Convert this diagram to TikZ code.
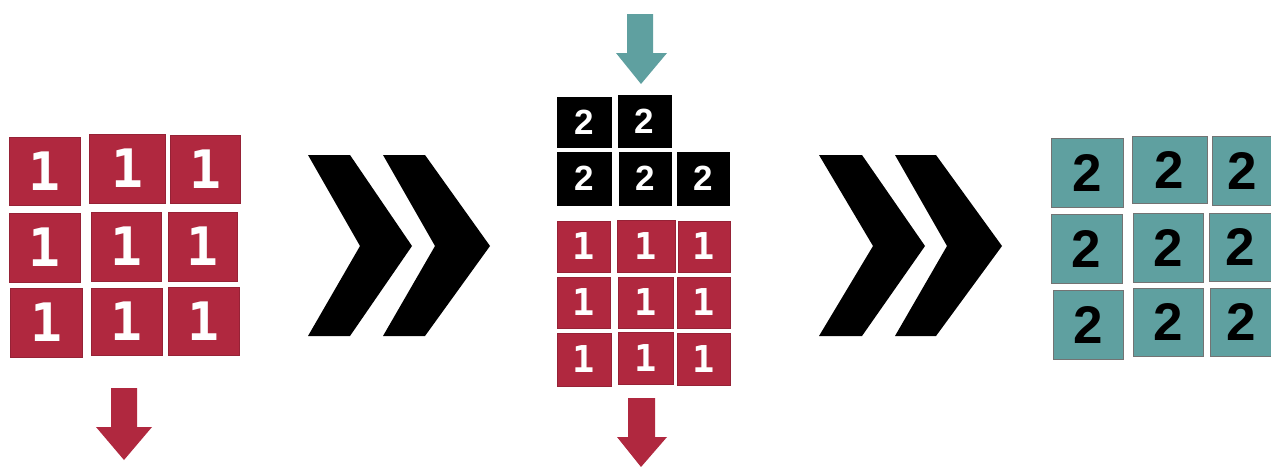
\documentclass[tikz,border=0pt]{standalone}
\usepackage{fontspec}
\newfontfamily\monof{DejaVu Sans Mono}
\newfontfamily\sansf{Liberation Sans}
\definecolor{cred}{HTML}{B0283F}
\definecolor{cteal}{HTML}{5FA0A0}
\tikzset{
  cell/.style={rectangle, inner sep=0pt, outer sep=0pt, line width=0.7pt},
  redbig/.style={cell, fill=cred, draw=cred!85!black, text=white, font=\monof\bfseries\fontsize{53}{53}\selectfont},
  redsmall/.style={cell, fill=cred, draw=cred!85!black, text=white, font=\monof\bfseries\fontsize{37}{37}\selectfont},
  blackcell/.style={cell, fill=black, draw=black, text=white, font=\sansf\bfseries\fontsize{35}{35}\selectfont},
  tealcell/.style={cell, fill=cteal, draw=black!55, text=black, font=\sansf\bfseries\fontsize{53}{53}\selectfont},
  chev/.style={fill=black},
  redarrow/.style={fill=cred},
  tealarrow/.style={fill=cteal}
}
\newcommand\cellbox[7]{\node[#1, minimum width={(#5-#3)*1pt}, minimum height={(#6-#4)*1pt}] (#2) at ({(#3+#5)/2},{(#4+#6)/2}) {#7};}
\begin{document}
\begin{tikzpicture}[x=1pt,y=-1pt]
\useasboundingbox[fill=white] (0,0) rectangle (1271,466);
% left grid
\cellbox{redbig}{l11}{9}{137}{80}{205}{1}
\cellbox{redbig}{l12}{89}{134}{165}{203}{1}
\cellbox{redbig}{l13}{170}{135}{240}{203}{1}
\cellbox{redbig}{l21}{9}{213}{80}{282}{1}
\cellbox{redbig}{l22}{91}{212}{161}{281}{1}
\cellbox{redbig}{l23}{168}{212}{237}{281}{1}
\cellbox{redbig}{l31}{10}{288}{82}{357}{1}
\cellbox{redbig}{l32}{91}{288}{162}{355}{1}
\cellbox{redbig}{l33}{168}{287}{239}{355}{1}
% left arrow
\fill[redarrow] (111,388) -- (137,388) -- (137,427) -- (152,427) -- (124,460) -- (96,427) -- (111,427) -- cycle;
% chevrons 1
\fill[chev] (308,155) -- (350,155) -- (412,246) -- (350,336) -- (308,336) -- (360,246) -- cycle;
\fill[chev] (383,155) -- (425,155) -- (490,246) -- (425,336) -- (383,336) -- (435,246) -- cycle;
% middle teal arrow
\fill[tealarrow] (627,14) -- (653,14) -- (653,53) -- (667,53) -- (641,84) -- (616,53) -- (627,53) -- cycle;
% middle black
\cellbox{blackcell}{m11}{557}{97}{611}{147}{2}
\cellbox{blackcell}{m12}{618}{95}{671}{147}{2}
\cellbox{blackcell}{m21}{557}{152}{611}{205}{2}
\cellbox{blackcell}{m22}{619}{152}{671}{205}{2}
\cellbox{blackcell}{m23}{677}{152}{729}{205}{2}
% middle red
\cellbox{redsmall}{r11}{557}{221}{610}{272}{1}
\cellbox{redsmall}{r12}{617}{220}{675}{272}{1}
\cellbox{redsmall}{r13}{678}{221}{730}{272}{1}
\cellbox{redsmall}{r21}{557}{277}{610}{328}{1}
\cellbox{redsmall}{r22}{618}{277}{673}{328}{1}
\cellbox{redsmall}{r23}{677}{277}{730}{328}{1}
\cellbox{redsmall}{r31}{557}{333}{611}{386}{1}
\cellbox{redsmall}{r32}{618}{332}{673}{384}{1}
\cellbox{redsmall}{r33}{677}{333}{730}{385}{1}
% middle red arrow
\fill[redarrow] (628,398) -- (655,398) -- (655,437) -- (667,437) -- (641,467) -- (617,437) -- (628,437) -- cycle;
% chevrons 2
\fill[chev] (819,155) -- (862,155) -- (925,246) -- (862,336) -- (819,336) -- (873,246) -- cycle;
\fill[chev] (895,155) -- (936,155) -- (1002,246) -- (936,336) -- (895,336) -- (947,246) -- cycle;
% right teal grid
\cellbox{tealcell}{t11}{1051}{138}{1123}{207}{2}
\cellbox{tealcell}{t12}{1132}{136}{1207}{203}{2}
\cellbox{tealcell}{t13}{1212}{136}{1272}{205}{2}
\cellbox{tealcell}{t21}{1051}{214}{1122}{283}{2}
\cellbox{tealcell}{t22}{1133}{213}{1203}{282}{2}
\cellbox{tealcell}{t23}{1209}{213}{1272}{281}{2}
\cellbox{tealcell}{t31}{1053}{290}{1123}{359}{2}
\cellbox{tealcell}{t32}{1133}{288}{1203}{356}{2}
\cellbox{tealcell}{t33}{1210}{288}{1272}{356}{2}
\end{tikzpicture}
\end{document}
